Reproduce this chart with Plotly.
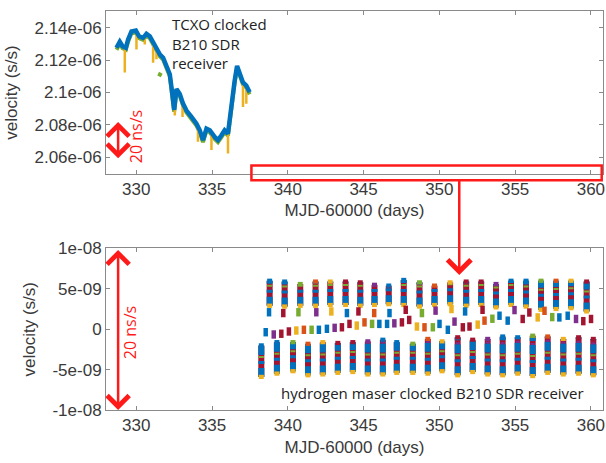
import plotly.graph_objects as go

# ---------------- data: TCXO clocked receiver (top panel) ----------------
tcxo_days = [328.69, 328.91, 329.09, 329.31, 329.46, 329.68, 329.97, 330.18, 330.45, 330.67,
             330.89, 331.11, 331.33, 331.55, 331.77, 331.99, 332.21, 332.32, 332.43, 332.50,
             332.65, 332.87, 333.09, 333.31, 333.64, 333.97, 334.19, 334.40, 334.63, 334.85,
             335.17, 335.39, 335.62, 335.83, 336.05, 336.28, 336.49, 336.65, 336.82, 337.04,
             337.26, 337.48]
tcxo_blue = [2.1276e-6, 2.1313e-6, 2.1286e-6, 2.1276e-6, 2.1327e-6, 2.1377e-6, 2.1382e-6, 2.1347e-6,
             2.1337e-6, 2.1362e-6, 2.1347e-6, 2.1307e-6, 2.1266e-6, 2.1235e-6, 2.1215e-6, 2.1164e-6,
             2.1113e-6, 2.1032e-6, 2.0950e-6, 2.0893e-6, 2.1021e-6, 2.0991e-6, 2.0930e-6, 2.0889e-6,
             2.0849e-6, 2.0808e-6, 2.0767e-6, 2.0706e-6, 2.0777e-6, 2.0767e-6, 2.0726e-6, 2.0706e-6,
             2.0736e-6, 2.0767e-6, 2.0747e-6, 2.0930e-6, 2.1072e-6, 2.1164e-6, 2.1123e-6, 2.1062e-6,
             2.1042e-6, 2.1001e-6]
tcxo_green = [2.1264e-6, 2.1301e-6, 2.1274e-6, 2.1264e-6, 2.1315e-6, 2.1365e-6, 2.1370e-6, 2.1335e-6,
              2.1325e-6, 2.1350e-6, 2.1335e-6, 2.1295e-6, 2.1254e-6, 2.1223e-6, 2.1203e-6, 2.1152e-6,
              2.1101e-6, 2.1020e-6, 2.0938e-6, 2.0881e-6, 2.1009e-6, 2.0979e-6, 2.0918e-6, 2.0877e-6,
              2.0837e-6, 2.0796e-6, 2.0755e-6, 2.0694e-6, 2.0765e-6, 2.0755e-6, 2.0714e-6, 2.0694e-6,
              2.0724e-6, 2.0755e-6, 2.0735e-6, 2.0918e-6, 2.1060e-6, 2.1152e-6, 2.1111e-6, 2.1050e-6,
              2.1030e-6, 2.0989e-6]
tcxo_green_dot_days = [331.50, 331.62]
tcxo_green_dot_vals = [2.1100e-6, 2.1122e-6]
# yellow downward spikes: day, value at curve, value at spike tip
spike_days = [329.24, 330.01, 330.56, 331.11, 331.33, 332.54, 333.05, 334.07, 334.96, 336.05, 337.04, 337.26]
spike_top = [2.1280e-6, 2.1380e-6, 2.1350e-6, 2.1307e-6, 2.1266e-6, 2.0930e-6, 2.0940e-6, 2.0790e-6,
             2.0755e-6, 2.0747e-6, 2.1062e-6, 2.1042e-6]
spike_low = [2.1123e-6, 2.1266e-6, 2.1296e-6, 2.1184e-6, 2.1205e-6, 2.0858e-6, 2.0849e-6, 2.0696e-6,
             2.0645e-6, 2.0624e-6, 2.0910e-6, 2.0930e-6]

# ---------------- data: hydrogen maser clocked receiver (bottom panel) ----------------
hm_top_days = [338.80, 339.79, 340.82, 341.83, 342.80, 343.81, 344.78, 345.72, 346.66, 347.65, 348.69,
               349.68, 350.71, 351.77, 352.76, 353.74, 354.73, 355.72, 356.71, 357.70, 358.69, 359.72]
hm_top_hi = [6.0e-9, 5.9e-9, 5.6e-9, 5.9e-9, 5.9e-9, 5.9e-9, 5.8e-9, 5.5e-9, 5.4e-9, 6.1e-9, 5.8e-9,
             5.4e-9, 5.8e-9, 5.9e-9, 5.9e-9, 5.6e-9, 6.0e-9, 6.0e-9, 6.0e-9, 6.0e-9, 6.0e-9, 5.9e-9]
hm_top_lo = [2.9e-9, 2.8e-9, 2.9e-9, 2.9e-9, 3.0e-9, 3.0e-9, 2.9e-9, 3.0e-9, 3.1e-9, 3.0e-9, 2.8e-9,
             3.0e-9, 3.1e-9, 2.9e-9, 3.0e-9, 2.7e-9, 3.0e-9, 2.8e-9, 2.4e-9, 2.5e-9, 2.6e-9, 2.2e-9]
hm_tail_days = [338.76, 339.70, 340.70, 341.88, 342.87, 343.90, 344.66, 345.70, 346.71, 347.78, 348.85,
                349.75, 350.80, 351.70, 352.85]
hm_tail_vals = [2.1e-9, 2.0e-9, 2.1e-9, 2.1e-9, 2.2e-9, 2.0e-9, 2.2e-9, 2.0e-9, 2.0e-9, 2.4e-9, 2.0e-9,
                2.3e-9, 2.5e-9, 2.2e-9, 2.4e-9]
hm_bot_days = [338.25, 339.28, 340.34, 341.33, 342.31, 343.30, 344.29, 345.28, 346.27, 347.19, 348.25,
               349.24, 350.18, 351.21, 352.20, 353.19, 354.18, 355.17, 356.16, 357.15, 358.18, 359.19, 360.16]
hm_bot_hi = [-2.0e-9, -1.6e-9, -1.6e-9, -1.8e-9, -1.6e-9, -1.7e-9, -1.6e-9, -1.5e-9, -1.3e-9, -1.6e-9,
             -1.8e-9, -1.2e-9, -1.5e-9, -1.0e-9, -1.3e-9, -1.2e-9, -0.9e-9, -1.0e-9, -0.8e-9, -0.9e-9,
             -1.2e-9, -1.0e-9, -1.2e-9]
hm_bot_lo = [-5.9e-9, -5.5e-9, -5.2e-9, -5.7e-9, -5.6e-9, -5.4e-9, -5.3e-9, -5.6e-9, -5.6e-9, -5.4e-9,
             -5.4e-9, -5.5e-9, -5.2e-9, -5.7e-9, -5.3e-9, -5.6e-9, -5.7e-9, -5.5e-9, -5.8e-9, -5.4e-9,
             -5.6e-9, -5.5e-9, -5.7e-9]
hm_mid_days = [338.54, 339.07, 339.57, 340.07, 340.56, 341.06, 341.57, 342.05, 342.58, 343.09, 343.57,
               344.07, 344.55, 345.06, 345.56, 346.04, 346.55, 347.03, 347.53, 348.01, 348.52, 349.02,
               349.57, 350.01, 350.56, 351.00, 351.55, 351.99, 352.53, 352.98, 353.50, 353.97, 354.51,
               354.96, 355.50, 355.94, 356.49, 356.94, 357.45, 357.92, 358.47, 359.02, 359.50, 360.01]
hm_mid_vals = [-0.37e-9, -0.65e-9, -0.56e-9, -0.28e-9, -0.16e-9, -0.07e-9, -0.07e-9, -0.07e-9, 0.05e-9,
               0.17e-9, 0.24e-9, 0.66e-9, 0.45e-9, 0.85e-9, 0.66e-9, 0.66e-9, 0.66e-9, 0.73e-9, 0.85e-9,
               1.15e-9, 0.33e-9, 0.24e-9, 0.24e-9, 0.66e-9, -0.07e-9, 0.94e-9, 0.24e-9, 0.33e-9, 0.57e-9,
               1.06e-9, 1.30e-9, 1.67e-9, 1.06e-9, 2.37e-9, 1.27e-9, 2.07e-9, 1.46e-9, 2.28e-9, 1.50e-9,
               1.46e-9, 1.67e-9, 1.27e-9, 1.00e-9, 1.27e-9]

# tick labels
x_ticks = [330, 335, 340, 345, 350, 355, 360]
y1_ticks = [2.06e-6, 2.08e-6, 2.10e-6, 2.12e-6, 2.14e-6]
y1_text = ["2.06e-06", "2.08e-06", "2.1e-06", "2.12e-06", "2.14e-06"]
y2_ticks = [-1e-8, -5e-9, 0, 5e-9, 1e-8]
y2_text = ["-1e-08", "-5e-09", "0", "5e-09", "1e-08"]

BLUE, RED, GREEN, YELLOW, PURPLE, ORANGE = "#0072BD", "#A2142F", "#77AC30", "#EDB120", "#7E2F8E", "#D95319"
palette = [BLUE, RED, GREEN, PURPLE, YELLOW, BLUE, RED, ORANGE]


def segments(days, lo, hi):
    xs, ys = [], []
    for d, a, b in zip(days, lo, hi):
        xs += [d, d, None]
        ys += [a, b, None]
    return xs, ys


fig = go.Figure()

# ---- top panel ----
fig.add_trace(go.Scatter(x=tcxo_days, y=tcxo_green, mode="lines", line=dict(color=GREEN, width=4),
                         xaxis="x", yaxis="y", hoverinfo="skip"))
fig.add_trace(go.Scatter(x=tcxo_green_dot_days, y=tcxo_green_dot_vals, mode="lines",
                         line=dict(color=GREEN, width=4), xaxis="x", yaxis="y"))
sx, sy = segments(spike_days, spike_low, spike_top)
fig.add_trace(go.Scatter(x=sx, y=sy, mode="lines", line=dict(color=YELLOW, width=2.5), xaxis="x", yaxis="y"))
fig.add_trace(go.Scatter(x=tcxo_days, y=tcxo_blue, mode="lines", line=dict(color=BLUE, width=4.5),
                         xaxis="x", yaxis="y"))

# ---- bottom panel ----
for days, lo, hi in [(hm_top_days, hm_top_lo, hm_top_hi), (hm_bot_days, hm_bot_lo, hm_bot_hi)]:
    bx, by = segments(days, lo, hi)
    fig.add_trace(go.Scatter(x=bx, y=by, mode="lines", line=dict(color=RED, width=6), xaxis="x2", yaxis="y2"))
    fig.add_trace(go.Scatter(x=bx, y=by, mode="lines", line=dict(color=BLUE, width=6, dash="9px,4px,3px,6px"),
                             xaxis="x2", yaxis="y2"))
    fig.add_trace(go.Scatter(x=bx, y=by, mode="lines", line=dict(color=GREEN, width=5, dash="2px,17px"),
                             xaxis="x2", yaxis="y2"))
    fig.add_trace(go.Scatter(x=bx, y=by, mode="lines", line=dict(color=PURPLE, width=4, dash="2px,29px"),
                             xaxis="x2", yaxis="y2"))
    end_colors = [palette[(i * 5) % len(palette)] for i in range(len(days))]
    fig.add_trace(go.Scatter(x=days, y=lo, mode="markers",
                             marker=dict(symbol="line-ns", size=3, line=dict(color=YELLOW, width=5)),
                             xaxis="x2", yaxis="y2"))
    fig.add_trace(go.Scatter(x=days, y=hi, mode="markers",
                             marker=dict(symbol="line-ns", size=3, line=dict(color=end_colors, width=5)),
                             xaxis="x2", yaxis="y2"))

tail_colors = [palette[i % len(palette)] for i in range(len(hm_tail_days))]
fig.add_trace(go.Scatter(x=hm_tail_days, y=hm_tail_vals, mode="markers",
                         marker=dict(symbol="line-ns", size=6, line=dict(color=tail_colors, width=4.5)),
                         xaxis="x2", yaxis="y2"))
mid_colors = [palette[(i * 3) % len(palette)] for i in range(len(hm_mid_days))]
fig.add_trace(go.Scatter(x=hm_mid_days, y=hm_mid_vals, mode="markers",
                         marker=dict(symbol="line-ns", size=6, line=dict(color=mid_colors, width=4.5)),
                         xaxis="x2", yaxis="y2"))

AX_FONT = dict(family="Liberation Sans, Arial, sans-serif", size=17, color="#3a3a3a")
ANN_FONT = "Open Sans, Noto Sans, sans-serif"

axis_common = dict(showline=True, linecolor="#8a8a8a", linewidth=1, mirror="ticks", ticks="inside",
                   ticklen=4, tickcolor="#8a8a8a", showgrid=False, zeroline=False, tickfont=AX_FONT)

fig.update_layout(
    width=606, height=463,
    margin=dict(l=106, r=2, t=5, b=53),
    paper_bgcolor="white", plot_bgcolor="white",
    showlegend=False,
    xaxis=dict(domain=[0, 1], anchor="y", range=[328, 360.8], tickvals=x_ticks,
               title=dict(text="MJD-60000 (days)", font=AX_FONT, standoff=6), **axis_common),
    yaxis=dict(domain=[0.5926, 0.9988], anchor="x", range=[2.05e-6, 2.15e-6], tickvals=y1_ticks,
               ticktext=y1_text, title=dict(text="velocity (s/s)", font=AX_FONT, standoff=12), **axis_common),
    xaxis2=dict(domain=[0, 1], anchor="y2", range=[328, 360.8], tickvals=x_ticks,
                title=dict(text="MJD-60000 (days)", font=AX_FONT, standoff=6), **axis_common),
    yaxis2=dict(domain=[0, 0.4049], anchor="x2", range=[-1e-8, 1e-8], tickvals=y2_ticks,
                ticktext=y2_text, title=dict(text="velocity (s/s)", font=AX_FONT, standoff=12), **axis_common),
)

# red box + arrow linking the panels
fig.add_shape(type="rect", xref="paper", yref="paper", x0=0.2926, x1=0.9974, y0=0.576, y1=0.613,
              line=dict(color="#ff1a1a", width=2.5), fillcolor="rgba(0,0,0,0)")
fig.add_annotation(xref="paper", yref="paper", x=0.7108, y=0.3383, ax=0, ay=-96, text="",
                   showarrow=True, arrowhead=4, arrowsize=1.8, arrowwidth=2.5, arrowcolor="#ff1a1a", standoff=0)

# 20 ns/s scale arrows
for xr, yr, lo, hi, tx, ty in [("x", "y", 2.0594e-6, 2.0828e-6, 329.95, 2.0728e-6),
                               ("x2", "y2", -1e-8, 1e-8, 329.58, -0.37e-9)]:
    fig.add_annotation(xref=xr, yref=yr, x=328.8, y=lo, axref=xr, ayref=yr, ax=328.8, ay=hi, text="",
                       showarrow=True, arrowside="end+start", arrowhead=4, startarrowhead=4,
                       arrowsize=1.7, startarrowsize=1.7, arrowwidth=2.5, arrowcolor="#ff1a1a",
                       standoff=0, startstandoff=0)
    fig.add_annotation(xref=xr, yref=yr, x=tx, y=ty, text="20 ns/s", textangle=-90, showarrow=False,
                       font=dict(family=ANN_FONT, size=16, color="#ff1a1a"))

fig.add_annotation(xref="x", yref="paper", x=332.25, y=0.998, xanchor="left", yanchor="top", align="left",
                   text="TCXO clocked<br>B210 SDR<br>receiver", showarrow=False,
                   font=dict(family=ANN_FONT, size=15, color="#222222"))
fig.add_annotation(xref="x2", yref="y2", x=339.40, y=-7.84e-9, xanchor="left", yanchor="middle",
                   text="hydrogen maser clocked B210 SDR receiver", showarrow=False,
                   font=dict(family=ANN_FONT, size=15, color="#222222"))

fig.write_html("out.html", config={"displayModeBar": False},
               post_script="document.body.style.margin='0';")
